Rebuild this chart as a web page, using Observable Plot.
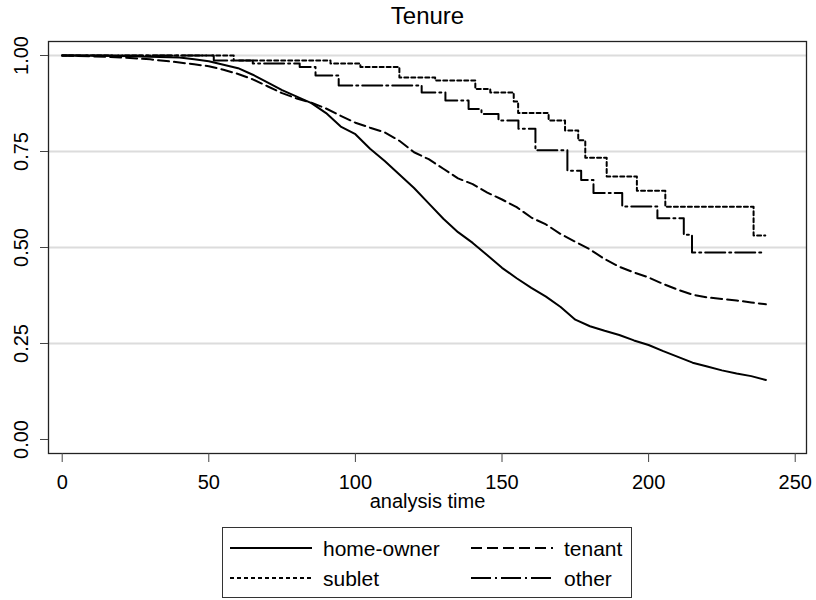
<!DOCTYPE html>
<html>
<head>
<meta charset="utf-8">
<script src="https://cdn.jsdelivr.net/npm/d3@7"></script>
<script src="https://cdn.jsdelivr.net/npm/@observablehq/plot@0.6"></script>
<style>
  body { margin: 0; background: #fff; font-family: "Liberation Sans", Arial, sans-serif; }
  #wrap { position: relative; width: 816px; height: 600px; overflow: hidden; }
  #chart { position: absolute; left: 0; top: 0; }
  #legend { position: absolute; left: 222px; top: 527px; }
</style>
</head>
<body>
<div id="wrap"><div id="chart"></div><div id="legend"></div></div>
<script>
const title = "Tenure";
const xLabel = "analysis time";
const xTicks = [0, 50, 100, 150, 200, 250];
const yTicks = [0, 0.25, 0.5, 0.75, 1];
const gridValues = [0.25, 0.5, 0.75, 1];

const seriesNames = ["home-owner", "tenant", "sublet", "other"];
const seriesDash = { "home-owner": null, "tenant": "11,5", "sublet": "4,3", "other": "20,4,2,4" };
const seriesCurve = { "home-owner": "linear", "tenant": "linear", "sublet": "step-after", "other": "step-after" };

const homeT = [0,10,20,30,40,45,50,55,60,65,70,75,80,85,90,95,100,105,110,115,120,125,130,135,140,145,150,155,160,165,170,175,180,185,190,195,200,205,210,215,220,225,230,235,240];
const homeS = [1,1,0.999,0.997,0.995,0.99,0.985,0.976,0.967,0.95,0.93,0.91,0.893,0.876,0.85,0.815,0.795,0.757,0.725,0.69,0.655,0.615,0.575,0.54,0.512,0.48,0.447,0.42,0.395,0.372,0.345,0.312,0.295,0.283,0.272,0.258,0.246,0.23,0.215,0.2,0.19,0.18,0.172,0.165,0.155];

const tenantT = [0,10,20,30,40,45,50,55,60,65,70,75,80,85,90,95,100,105,110,115,120,125,130,135,140,145,150,155,160,165,170,175,180,185,190,195,200,205,210,215,220,225,230,235,240];
const tenantS = [1,0.998,0.995,0.99,0.982,0.977,0.972,0.963,0.952,0.938,0.92,0.902,0.888,0.877,0.862,0.843,0.825,0.812,0.8,0.778,0.748,0.73,0.705,0.68,0.665,0.643,0.625,0.605,0.578,0.56,0.535,0.515,0.495,0.47,0.45,0.435,0.422,0.405,0.39,0.377,0.37,0.366,0.362,0.357,0.352];

const subletT = [0,58.5,91.5,101.7,115,127.2,140.9,146,154,155.5,165.9,171.5,176,178.4,185.7,196,205.7,235.8,239.8];
const subletS = [1,0.987,0.979,0.97,0.943,0.935,0.913,0.904,0.88,0.85,0.831,0.805,0.779,0.734,0.685,0.648,0.606,0.531,0.531];

const otherT = [0,51.7,65,81,86.4,94.3,122.6,130.7,138.6,143,148.8,155.6,161.4,172.3,177,181.2,191,203,212,214.8,238.6];
const otherS = [1,0.987,0.979,0.97,0.948,0.922,0.904,0.883,0.861,0.848,0.831,0.809,0.753,0.70,0.676,0.642,0.607,0.576,0.533,0.487,0.487];

const rawSeries = [
  ["home-owner", homeT, homeS],
  ["tenant", tenantT, tenantS],
  ["sublet", subletT, subletS],
  ["other", otherT, otherS]
];

const font = "'Liberation Sans', Arial, sans-serif";

const lineMarks = rawSeries.map(([name, T, S]) =>
  Plot.line(T.map((t, i) => ({ t, s: S[i] })), {
    x: "t", y: "s",
    stroke: "black",
    strokeWidth: 2,
    strokeDasharray: seriesDash[name],
    curve: seriesCurve[name]
  })
);

const fmt = d3.format(".2f");

const chart = Plot.plot({
  width: 816,
  height: 520,
  marginLeft: 48,
  marginRight: 10,
  marginTop: 41,
  marginBottom: 67,
  style: { fontFamily: font, background: "white", overflow: "visible" },
  x: { domain: [-4.67, 253.85], label: null },
  y: { domain: [-0.0365, 1.0365], label: null },
  marks: [
    Plot.ruleY(gridValues, { stroke: "#dcdcdc", strokeWidth: 2 }),
    ...lineMarks,
    Plot.frame({ stroke: "#222", strokeWidth: 1.3 }),
    Plot.axisX({ ticks: xTicks, tickSize: 9, tickPadding: 12, fontSize: 20, label: null, tickFormat: d3.format("d"), stroke: "#444", color: "#000" }),
    Plot.axisY({ ticks: yTicks, tickSize: 8, tickFormat: () => "", label: null, stroke: "#444" }),
    Plot.text(yTicks, { y: d => d, text: d => fmt(d), frameAnchor: "left", dx: -27, rotate: -90, fontSize: 20, textAnchor: "middle", lineAnchor: "middle", fill: "black" }),
    Plot.text([title], { frameAnchor: "top", dy: -18, lineAnchor: "bottom", fontSize: 24, fill: "black" }),
    Plot.text([xLabel], { frameAnchor: "bottom", dy: 54, lineAnchor: "bottom", fontSize: 20, fill: "black" })
  ]
});
document.getElementById("chart").appendChild(chart);

// Legend
const lw = 410, lh = 71;
const legendPos = [
  { name: "home-owner", col: 0, row: 0 },
  { name: "tenant", col: 1, row: 0 },
  { name: "sublet", col: 0, row: 1 },
  { name: "other", col: 1, row: 1 }
];
const colX = [8, 249];
const rowY = [21, 51];
const svg = d3.select("#legend").append("svg")
  .attr("width", lw).attr("height", lh)
  .style("font-family", font);
svg.append("rect").attr("x", 0.5).attr("y", 0.5).attr("width", lw - 1).attr("height", lh - 1)
  .attr("fill", "white").attr("stroke", "#333").attr("stroke-width", 1);
legendPos.forEach(p => {
  const x0 = colX[p.col], y0 = rowY[p.row];
  svg.append("line").attr("x1", x0).attr("x2", x0 + 82).attr("y1", y0).attr("y2", y0)
    .attr("stroke", "black").attr("stroke-width", 2)
    .attr("stroke-dasharray", seriesDash[p.name]);
  svg.append("text").attr("x", x0 + 93).attr("y", y0 + 7.5)
    .attr("font-size", 21).attr("fill", "black").text(p.name);
});
</script>
</body>
</html>
